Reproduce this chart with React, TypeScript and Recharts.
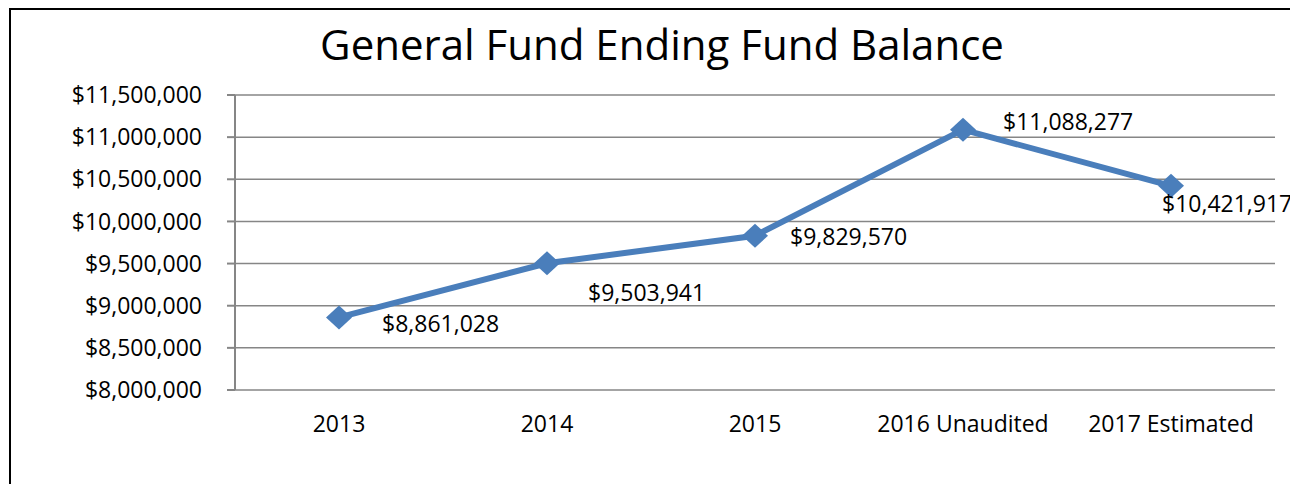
import React from 'react';
import { LineChart, Line, XAxis, YAxis, CartesianGrid, LabelList } from 'recharts';

const categories = ['2013', '2014', '2015', '2016 Unaudited', '2017 Estimated'];
const balances = [8861028, 9503941, 9829570, 11088277, 10421917];
const yTicks = [8000000, 8500000, 9000000, 9500000, 10000000, 10500000, 11000000, 11500000];
const title = 'General Fund Ending Fund Balance';

const data = categories.map((year, i) => ({ year, value: balances[i] }));
const sepTicks = Array.from({ length: categories.length + 1 }, (_, i) => i);

const FONT = '"Open Sans", "Noto Sans", sans-serif';
const LINE_COLOR = '#4a7ebb';
const AXIS_COLOR = '#868686';
const LABEL_OFFSETS: [number, number][] = [
  [43, 15],
  [41, 38],
  [35, 9],
  [40, 0],
  [-9, 26],
];

const money = (v: number) => '$' + v.toLocaleString('en-US');

const Diamond = (props: any) => {
  const { cx, cy } = props;
  if (cx == null || cy == null) return null;
  return (
    <path
      d={`M${cx - 13},${cy} L${cx},${cy - 12} L${cx + 13},${cy} L${cx},${cy + 12} Z`}
      fill={LINE_COLOR}
      stroke="none"
    />
  );
};

const ValueLabel = (props: any) => {
  const { x, y, value, index } = props;
  const off = LABEL_OFFSETS[index] || [10, 0];
  return (
    <text
      x={x + off[0]}
      y={y + off[1]}
      fontFamily={FONT}
      fontSize={23}
      fill="#000"
      textAnchor="start"
    >
      {money(value)}
    </text>
  );
};

export default function App() {
  return (
    <div
      style={{
        position: 'absolute',
        left: 0,
        top: 0,
        width: 1290,
        height: 484,
        overflow: 'hidden',
        background: '#fff',
      }}
    >
      <div
        style={{
          position: 'absolute',
          left: 9,
          top: 8,
          width: 1400,
          height: 600,
          border: '2px solid #000',
          boxSizing: 'border-box',
        }}
      />
      <svg
        width={1290}
        height={484}
        style={{ position: 'absolute', left: 0, top: 0 }}
      >
        <text x={662} y={60} textAnchor="middle" fontFamily={FONT} fontSize={42} fill="#000">
          {title}
        </text>
      </svg>
      <div style={{ position: 'absolute', left: 0, top: 0 }}>
        <LineChart
          width={1290}
          height={484}
          data={data}
          margin={{ top: 95, right: 15, bottom: 54, left: 0 }}
        >
          <CartesianGrid
            horizontal={true}
            vertical={false}
            stroke={AXIS_COLOR}
            strokeWidth={1.5}
          />
          <XAxis
            xAxisId="sep"
            type="number"
            domain={[0, categories.length]}
            ticks={sepTicks}
            allowDataOverflow
            tick={false}
            tickSize={8}
            tickLine={{ stroke: AXIS_COLOR, strokeWidth: 2 }}
            axisLine={{ stroke: AXIS_COLOR, strokeWidth: 2 }}
            height={0}
          />
          <XAxis
            dataKey="year"
            padding={{ left: 104, right: 104 }}
            tickLine={false}
            axisLine={false}
            tickSize={0}
            tickMargin={26}
            height={40}
            interval={0}
            tick={{ fontFamily: FONT, fontSize: 23, fill: '#000' }}
          />
          <YAxis
            type="number"
            domain={[yTicks[0], yTicks[yTicks.length - 1]]}
            ticks={yTicks}
            interval={0}
            width={235}
            tickSize={8}
            tickMargin={25}
            tickFormatter={money}
            tickLine={{ stroke: AXIS_COLOR, strokeWidth: 2 }}
            axisLine={{ stroke: AXIS_COLOR, strokeWidth: 2 }}
            tick={{ fontFamily: FONT, fontSize: 23, fill: '#000' }}
          />
          <Line
            type="linear"
            dataKey="value"
            stroke={LINE_COLOR}
            strokeWidth={6}
            dot={<Diamond />}
            activeDot={false}
            isAnimationActive={false}
          >
            <LabelList dataKey="value" content={<ValueLabel />} />
          </Line>
        </LineChart>
      </div>
    </div>
  );
}
